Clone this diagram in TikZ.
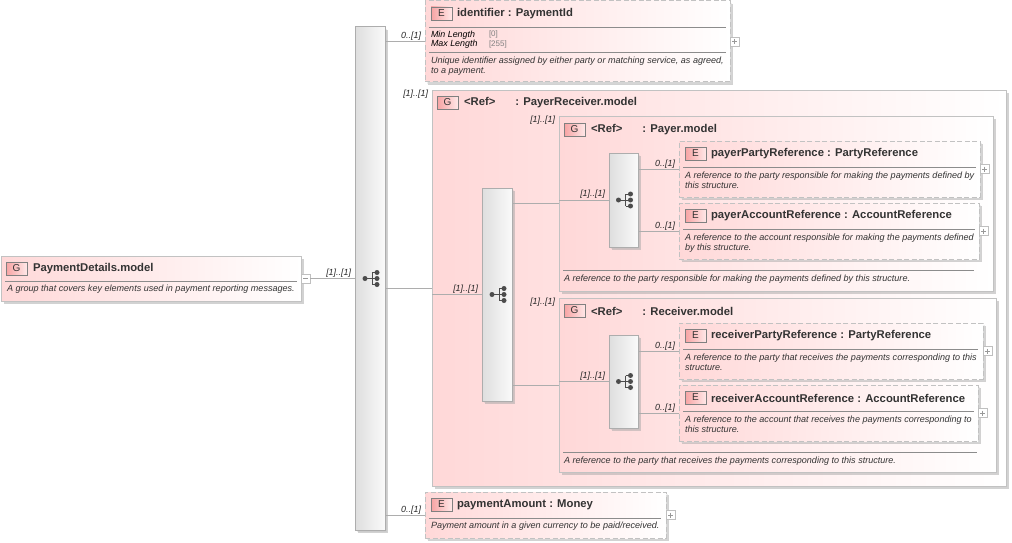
\documentclass[tikz,border=0pt]{standalone}
\usepackage{fontspec}
\setmainfont{Liberation Sans}
\usetikzlibrary{positioning, shadows}

\definecolor{linegray}{HTML}{ADADAD}
\definecolor{edgegray}{HTML}{C2C2C2}
\definecolor{boxpink}{HTML}{FFD8D8}
\definecolor{badgepink}{HTML}{F7A3A3}
\definecolor{textgray}{HTML}{333333}

\tikzset{
  box/.style = {rectangle, anchor=north west, inner sep=0pt, outer sep=0pt,
    draw=edgegray, line width=1pt, left color=boxpink, right color=white,
    drop shadow={shadow xshift=3pt, shadow yshift=-3pt, fill=black!35, opacity=0.5}},
  group/.style = {box},
  elem/.style = {box, line width=1pt, dash pattern=on 5pt off 2.5pt,
    drop shadow={shadow xshift=2pt, shadow yshift=-2pt, fill=black!15, opacity=0.4}},
  seq/.style = {box, draw=linegray, left color=black!13, right color=black!2, anchor=center,
    drop shadow={shadow xshift=2pt, shadow yshift=-2pt, fill=black!25, opacity=0.3}},
  badge/.style = {rectangle, inner sep=0pt, outer sep=0pt, minimum width=21pt, minimum height=13pt,
    draw=black!50, line width=0.7pt, left color=badgepink, right color=boxpink!60,
    font=\fontsize{10}{10}\selectfont, text=textgray},
  title/.style = {inner sep=0pt, outer sep=0pt, yshift=-0.5pt, font=\fontsize{11.3}{12}\bfseries\selectfont, text=textgray},
  desc/.style = {anchor=north west, inner sep=0pt, outer sep=0pt, align=left,
    font=\fontsize{9.05}{10}\itshape\selectfont, text=textgray},
  facet/.style = {anchor=west, inner sep=0pt, outer sep=0pt,
    font=\fontsize{8.9}{10}\itshape\selectfont, text=black},
  facetval/.style = {anchor=west, inner sep=0pt, outer sep=0pt,
    font=\fontsize{8}{10}\selectfont, text=black!50},
  mult/.style = {anchor=south east, inner sep=0pt, outer sep=0pt,
    font=\fontsize{8.9}{10}\itshape\selectfont, text=black!85},
  rule/.style = {draw=black!45, line width=0.7pt},
  conn/.style = {draw=linegray, line width=0.8pt},
  expand/.style = {rectangle, inner sep=0pt, outer sep=0pt, minimum size=9pt, draw=black!25,
    fill=white, line width=0.7pt},
  pics/seqicon/.style = {code={
    \draw[black!70, line width=0.9pt] (-5,0) -- (2,0) (2,-6) -- (2,6) (2,-6) -- (7,-6) (2,0) -- (7,0) (2,6) -- (7,6);
    \fill[black!70] (-5,0) circle (2.5pt) (7,-6) circle (2.5pt) (7,0) circle (2.5pt) (7,6) circle (2.5pt);
  }},
}

\begin{document}
\begin{tikzpicture}[x=1pt, y=-1pt, node distance=5pt]
   \useasboundingbox (0,0) rectangle (1012,543);

   % compositors
   \node (pdm)[group, minimum width=300pt, minimum height=45pt] at (1,256) {};
   \node (seq0)[seq, minimum width=30pt, minimum height=503pt] at (370,278.5) {};

   % identifier
   \node (id)[elem, minimum width=305pt, minimum height=81pt] at (425,1) {};
   \node (idB)[badge, below right=6pt and 6pt of id.north west] {E};
   \node (idT)[title, right=of idB] {identifier : PaymentId};
   \draw[rule] (429,27) -- (726,27) (429,52) -- (726,52);
   \node (idF1)[facet] at (431,35) {Min Length};
   \node (idV1)[facetval] at (489,34.5) {[0]};
   \node (idF2)[facet] at (431,44.5) {Max Length};
   \node (idV2)[facetval] at (489,44) {[255]};
   \node (idD)[desc] at (431,56.5) {Unique identifier assigned by either party or matching service, as agreed,\\to a payment.};
   \node (idX)[expand, right=0pt of id] {};

   % PayerReceiver
   \node (pr)[group, minimum width=574pt, minimum height=396pt] at (432,90) {};
   \node (prB)[badge, below right=6pt and 5pt of pr.north west] {G};
   \node (prT)[title, right=6pt of prB] {<Ref>\hspace{20pt}: PayerReceiver.model};
   \node (seq1)[seq, minimum width=30pt, minimum height=213pt] at (497,294.5) {};

   % Payer
   \node (payer)[group, minimum width=434pt, minimum height=175pt] at (559,116) {};
   \node (payerB)[badge, below right=7pt and 5pt of payer.north west] {G};
   \node (payerT)[title, right=6pt of payerB] {<Ref>\hspace{20pt}: Payer.model};
   \node (seq2)[seq, minimum width=29pt, minimum height=94pt] at (623.5,200) {};
   \draw[rule] (563,270) -- (974,270);
   \node (payerD)[desc] at (564,274.5) {A reference to the party responsible for making the payments defined by this structure.};

   \node (pp)[elem, minimum width=301pt, minimum height=56pt] at (679,141) {};
   \node (ppB)[badge, below right=6pt and 6pt of pp.north west] {E};
   \node (ppT)[title, right=of ppB] {payerPartyReference : PartyReference};
   \draw[rule] (683,167) -- (976,167);
   \node (ppD)[desc] at (685,171.5) {A reference to the party responsible for making the payments defined by\\this structure.};
   \node (ppX)[expand, right=0pt of pp] {};

   \node (pa)[elem, minimum width=300pt, minimum height=56pt] at (679,203) {};
   \node (paB)[badge, below right=6pt and 6pt of pa.north west] {E};
   \node (paT)[title, right=of paB] {payerAccountReference : AccountReference};
   \draw[rule] (683,229) -- (975,229);
   \node (paD)[desc] at (685,233.5) {A reference to the account responsible for making the payments defined\\by this structure.};
   \node (paX)[expand, right=0pt of pa] {};

   % Receiver
   \node (recv)[group, minimum width=437pt, minimum height=174pt] at (559,298) {};
   \node (recvB)[badge, below right=6pt and 5pt of recv.north west] {G};
   \node (recvT)[title, right=6pt of recvB] {<Ref>\hspace{20pt}: Receiver.model};
   \node (seq3)[seq, minimum width=29pt, minimum height=93pt] at (623.5,381.5) {};
   \draw[rule] (563,452) -- (977,452);
   \node (recvD)[desc] at (564,456.5) {A reference to the party that receives the payments corresponding to this structure.};

   \node (rp)[elem, minimum width=304pt, minimum height=56pt] at (679,323) {};
   \node (rpB)[badge, below right=6pt and 6pt of rp.north west] {E};
   \node (rpT)[title, right=of rpB] {receiverPartyReference : PartyReference};
   \draw[rule] (683,349) -- (978,349);
   \node (rpD)[desc] at (685,353.5) {A reference to the party that receives the payments corresponding to this\\structure.};
   \node (rpX)[expand, right=0pt of rp] {};

   \node (ra)[elem, minimum width=299pt, minimum height=56pt] at (679,385) {};
   \node (raB)[badge, below right=6pt and 6pt of ra.north west] {E};
   \node (raT)[title, right=of raB] {receiverAccountReference : AccountReference};
   \draw[rule] (683,411) -- (974,411);
   \node (raD)[desc] at (685,415.5) {A reference to the account that receives the payments corresponding to\\this structure.};
   \node (raX)[expand, right=0pt of ra] {};

   % paymentAmount
   \node (amt)[elem, minimum width=241pt, minimum height=46pt] at (425,492) {};
   \node (amtB)[badge, below right=6pt and 6pt of amt.north west] {E};
   \node (amtT)[title, right=of amtB] {paymentAmount : Money};
   \draw[rule] (429,518) -- (661,518);
   \node (amtD)[desc] at (431,522) {Payment amount in a given currency to be paid/received.};
   \node (amtX)[expand, right=0pt of amt] {};

   % PaymentDetails.model
   \node (pdmB)[badge, below right=6pt and 5pt of pdm.north west] {G};
   \node (pdmT)[title, right=6pt of pdmB] {PaymentDetails.model};
   \draw[rule] (5,281) -- (297,281);
   \node (pdmD)[desc] at (7,285) {A group that covers key elements used in payment reporting messages.};
   \node (pdmX)[expand, right=0pt of pdm] {};
   \draw[black!40, line width=0.7pt] (pdmX.center) ++(-2.5,0) -- ++(5,0);

   % connectors
   \path[conn] (pdmX.east) -- node[mult, pos=1, xshift=-4pt, yshift=1.5pt] {[1]..[1]} (seq0.west |- pdmX.east);
   \path[conn] (seq0.east |- id.west) -- node[mult, pos=1, xshift=-4pt, yshift=1pt] {0..[1]} (id.west);
   \path[conn] (seq0.east |- pr.west) -- (pr.west);
   \path[conn] (seq0.east |- amt.west) -- node[mult, pos=1, xshift=-4pt, yshift=1pt] {0..[1]} (amt.west);
   \path[conn] (pr.west |- seq1.west) -- node[mult, pos=1, xshift=-4pt, yshift=1.5pt] {[1]..[1]} (seq1.west);
   \path[conn] (seq1.east |- payer.west) -- (payer.west);
   \path[conn] (seq1.east |- recv.west) -- (recv.west);
   \path[conn] (payer.west |- seq2.west) -- node[mult, pos=1, xshift=-4pt, yshift=1.5pt] {[1]..[1]} (seq2.west);
   \path[conn] (recv.west |- seq3.west) -- node[mult, pos=1, xshift=-4pt, yshift=1.5pt] {[1]..[1]} (seq3.west);
   \path[conn] (seq2.east |- pp.west) -- node[mult, pos=1, xshift=-4pt, yshift=1pt] {0..[1]} (pp.west);
   \path[conn] (seq2.east |- pa.west) -- node[mult, pos=1, xshift=-4pt, yshift=1pt] {0..[1]} (pa.west);
   \path[conn] (seq3.east |- rp.west) -- node[mult, pos=1, xshift=-4pt, yshift=1pt] {0..[1]} (rp.west);
   \path[conn] (seq3.east |- ra.west) -- node[mult, pos=1, xshift=-4pt, yshift=1pt] {0..[1]} (ra.west);

   % labels beside the group corners
   \node (prM)[mult, anchor=north east, xshift=-4pt] at (pr.north west) {[1]..[1]};
   \node (payerM)[mult, anchor=north east, xshift=-4pt] at (payer.north west) {[1]..[1]};
   \node (recvM)[mult, anchor=north east, xshift=-4pt] at (recv.north west) {[1]..[1]};

   % plus signs and icons
   \foreach \n in {idX, ppX, paX, rpX, raX, amtX}
      \draw[black!40, line width=0.7pt] (\n.center) ++(-2.5,0) -- ++(5,0) (\n.center) ++(0,-2.5) -- ++(0,5);
   \foreach \n in {seq0, seq1, seq2, seq3}
      \pic at (\n) {seqicon};
\end{tikzpicture}
\end{document}
